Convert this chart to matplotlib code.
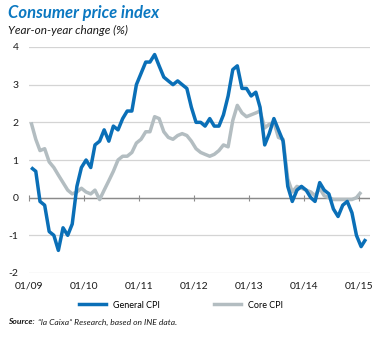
import numpy as np
import pandas as pd
import matplotlib
matplotlib.use("Agg")
import matplotlib.pyplot as plt
import matplotlib.dates as mdates
from matplotlib.lines import Line2D

plt.rcParams['font.family'] = ['Lato', 'DejaVu Sans']

# monthly year-on-year change (%), Jan 2009 onwards
general_cpi = [0.8, 0.7, -0.1, -0.2, -0.9, -1.0, -1.4, -0.8, -1.0, -0.7, 0.3, 0.8,
               1.0, 0.8, 1.4, 1.5, 1.8, 1.5, 1.9, 1.8, 2.1, 2.3, 2.3, 3.0,
               3.3, 3.6, 3.6, 3.8, 3.5, 3.2, 3.1, 3.0, 3.1, 3.0, 2.9, 2.4,
               2.0, 2.0, 1.9, 2.1, 1.9, 1.9, 2.2, 2.7, 3.4, 3.5, 2.9, 2.9,
               2.7, 2.8, 2.4, 1.4, 1.7, 2.1, 1.8, 1.5, 0.3, -0.1, 0.2, 0.3,
               0.2, 0.0, -0.1, 0.4, 0.2, 0.1, -0.3, -0.5, -0.2, -0.1, -0.4, -1.0,
               -1.3, -1.1]
core_cpi = [2.0, 1.55, 1.25, 1.3, 0.95, 0.8, 0.6, 0.4, 0.2, 0.1, 0.15, 0.25,
            0.15, 0.1, 0.2, -0.05, 0.2, 0.45, 0.7, 1.0, 1.1, 1.1, 1.2, 1.45,
            1.55, 1.75, 1.75, 2.15, 2.1, 1.75, 1.6, 1.55, 1.65, 1.7, 1.65, 1.5,
            1.3, 1.2, 1.15, 1.1, 1.15, 1.25, 1.4, 1.35, 2.05, 2.45, 2.25, 2.15,
            2.2, 2.25, 2.3, 1.85, 1.95, 2.0, 1.6, 1.55, 0.5, 0.15, 0.3, 0.25,
            0.2, 0.15, 0.05, 0.25, 0.05, 0.0, -0.05, -0.05, -0.05, -0.05, -0.05, 0.0,
            0.15]
years = [2009, 2010, 2011, 2012, 2013, 2014, 2015]
yticks = [-2, -1, 0, 1, 2, 3, 4]

blue = '#0a6fb7'
grey = '#b3bdc1'

months = pd.date_range('2009-01-01', periods=len(general_cpi), freq='MS') + pd.Timedelta(days=14)
months_core = months[:len(core_cpi)]
year_ticks = [pd.Timestamp(y, 1, 1) for y in years]

fig = plt.figure(figsize=(3.81, 3.38), dpi=100)
ax = fig.add_axes([29 / 381, 1 - 273 / 338, 341 / 381, 226 / 338])

ax.plot(months_core, core_cpi, color=grey, lw=2.5, solid_capstyle='butt', zorder=3)
ax.plot(months, general_cpi, color=blue, lw=2.5, solid_capstyle='butt', zorder=4)

ax.set_ylim(-2, 4)
ax.set_xlim(pd.Timestamp('2009-01-01'), pd.Timestamp('2015-03-15'))
ax.set_yticks(yticks)
ax.set_yticklabels([str(v) for v in yticks])
ax.set_xticks(year_ticks)
ax.xaxis.set_major_formatter(mdates.DateFormatter('%m/%y'))
ax.tick_params(axis='both', length=0, labelsize=7.5, colors='#1a1a1a')
ax.tick_params(axis='y', pad=7.5)
ax.tick_params(axis='x', pad=6)
for s in ax.spines.values():
    s.set_visible(False)
ax.grid(axis='y', color='#d4d4d4', lw=0.9, zorder=0)
ax.set_axisbelow(True)
ax.axhline(0, color='#8a8a8a', lw=1.0, zorder=2)

# small year ticks crossing the zero line
sec = ax.secondary_xaxis(1 / 3)
sec.set_xticks(year_ticks)
sec.tick_params(direction='inout', length=4, width=0.8, color='#8a8a8a',
                labelbottom=False, labeltop=False)
for s in sec.spines.values():
    s.set_visible(False)

fig.text(8 / 381, 1 - 13 / 338, 'Consumer price index', color='#0b78c1',
         fontsize=12, fontweight='bold', fontstyle='italic', va='center', ha='left')
fig.text(8 / 381, 1 - 30 / 338, 'Year-on-year change (%)', color='#1a1a1a',
         fontsize=8.5, fontstyle='italic', va='center', ha='left')

handles = [Line2D([], [], color=blue, lw=2.5), Line2D([], [], color=grey, lw=2.5)]
fig.legend(handles, ['General CPI', 'Core CPI'], loc='center',
           bbox_to_anchor=(181 / 381, 1 - 305 / 338), ncol=2, frameon=False,
           fontsize=6.5, handlelength=3.0, handletextpad=0.8, columnspacing=6.0)

fig.text(8 / 381, 1 - 322 / 338, 'Source:', fontsize=6.1, fontweight='bold',
         fontstyle='italic', va='center', ha='left', color='#1a1a1a')
fig.text(38 / 381, 1 - 322 / 338, '\u201cla Caixa\u201d Research, based on INE data.',
         fontsize=6.1, fontstyle='italic', va='center', ha='left', color='#1a1a1a')

fig.savefig('out.png', dpi=100)
